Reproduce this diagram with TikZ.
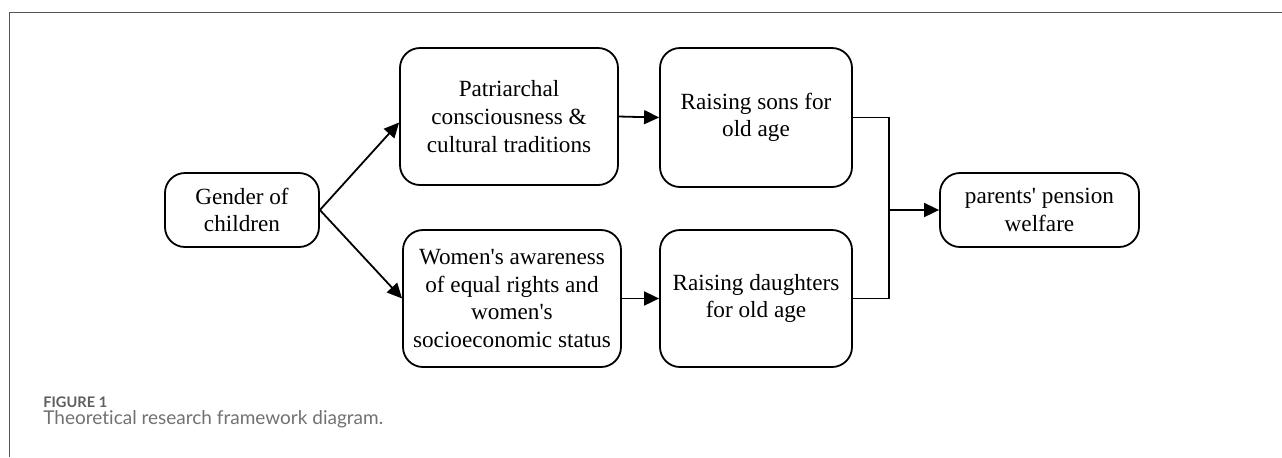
\documentclass[tikz,border=0pt]{standalone}
\usepackage{fontspec}
\newfontfamily\diagfont{Liberation Serif}
\newfontfamily\capfont{Lato}[Ligatures=NoCommon]
\usetikzlibrary{arrows.meta}
\definecolor{framegray}{HTML}{555555}
\definecolor{capgray}{HTML}{707173}
\definecolor{figgray}{HTML}{5E5F61}
\begin{document}
\begin{tikzpicture}[x=0.5pt,y=-0.5pt,
  box/.style={draw, line width=0.9pt, rounded corners=10pt, align=center,
    font=\diagfont\fontsize{11.6}{13.8}\selectfont, inner sep=0pt},
  conn/.style={line width=0.9pt},
  arr/.style={conn, -{Triangle[length=7.5pt,width=7pt]}}]
\useasboundingbox (0,0) rectangle (1282,457);
\draw[framegray, line width=0.5pt] (9,457) -- (9,12) -- (1282,12);

\node[box, minimum width=77pt, minimum height=37pt] (gender) at (242,210) {Gender of\\children};
\node[box, minimum width=109pt, minimum height=68.5pt] (patr) at (509,116.5) {Patriarchal\\consciousness \&\\cultural traditions};
\node[box, minimum width=109pt, minimum height=68.5pt] (women) at (512,298.5) {Women's awareness\\of equal rights and\\women's\\socioeconomic status};
\node[box, minimum width=96pt, minimum height=69.5pt] (sons) at (756,117.5) {Raising sons for\\old age};
\node[box, minimum width=96pt, minimum height=68.5pt] (daughters) at (756,298.5) {Raising daughters\\for old age};
\node[box, minimum width=99.5pt, minimum height=37pt] (parents) at (1039.5,210) {parents' pension\\welfare};
\coordinate (j) at (889,210);

\draw[arr] (gender.east) -- ([yshift=-3pt]patr.west);
\draw[arr] (gender.east) -- (women.west);
\draw[arr] (patr.east) -- (sons.west);
\draw[arr] (women.east) -- (daughters.west);
\draw[conn] (sons.east) -| (j);
\draw[conn] (daughters.east) -| (j);
\draw[arr] (j) -- (parents.west);

\node[anchor=base west, inner sep=0pt, text=figgray, font=\capfont\bfseries\fontsize{7.3}{8}\selectfont] (figlabel) at (43,407) {FIGURE 1};
\node[anchor=base west, inner sep=0pt, text=capgray, font=\capfont\fontsize{9.5}{11}\selectfont] (caption) at (43,424) {Theoretical research framework diagram.};
\end{tikzpicture}
\end{document}
